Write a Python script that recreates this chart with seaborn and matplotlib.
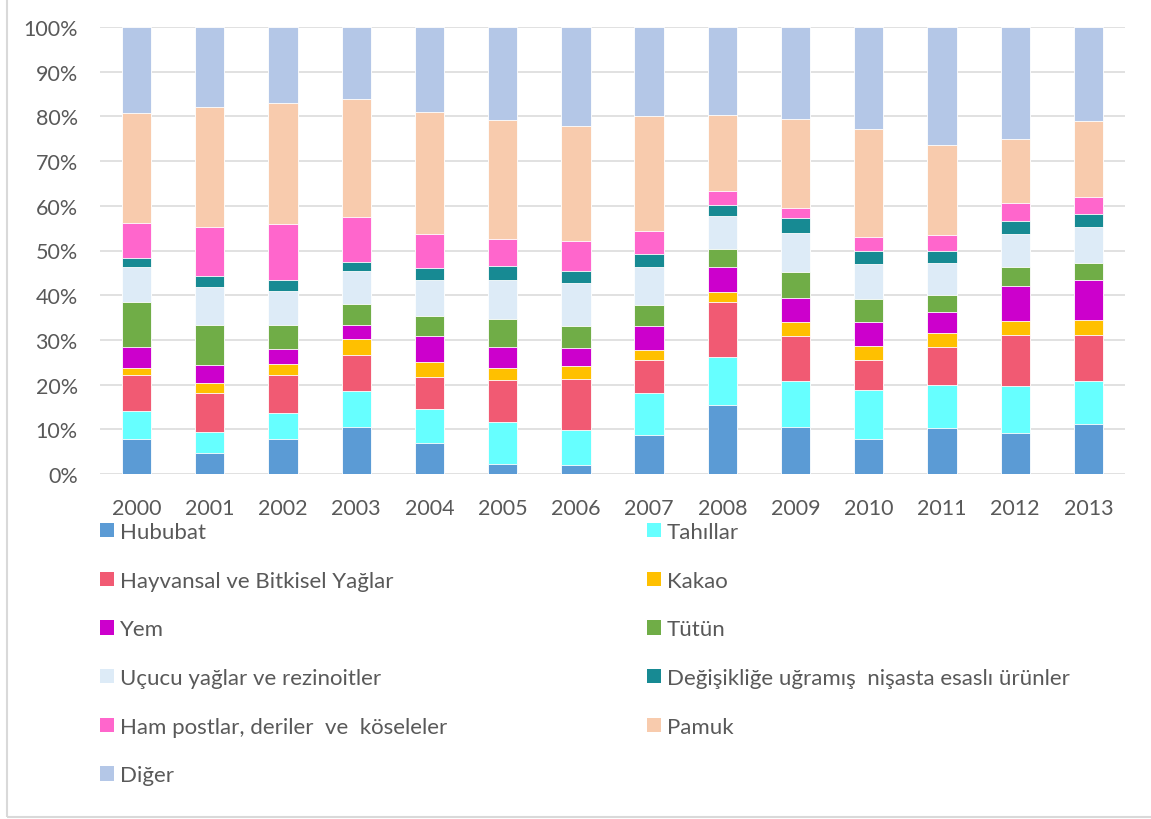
import numpy as np
import pandas as pd
import matplotlib.pyplot as plt
import seaborn as sns
from matplotlib.patches import Patch, Rectangle
from matplotlib.ticker import PercentFormatter

years = ['2000', '2001', '2002', '2003', '2004', '2005', '2006',
         '2007', '2008', '2009', '2010', '2011', '2012', '2013']

# pay (%) - resimden okunan tahmini degerler
hububat  = [7.8, 4.7, 7.8, 10.5, 7.0, 2.3, 2.1, 8.7, 15.5, 10.6, 7.8, 10.3, 9.1, 11.2]
tahillar = [6.3, 4.7, 5.9, 8.1, 7.5, 9.3, 7.8, 9.4, 10.6, 10.1, 10.9, 9.6, 10.6, 9.7]
hayvansal = [8.1, 8.8, 8.5, 8.0, 7.3, 9.4, 11.4, 7.3, 12.3, 10.1, 6.9, 8.6, 11.3, 10.3]
kakao    = [1.5, 2.2, 2.4, 3.5, 3.3, 2.7, 2.8, 2.4, 2.3, 3.3, 3.1, 3.1, 3.2, 3.3]
yem      = [4.8, 3.9, 3.3, 3.3, 5.8, 4.6, 4.0, 5.2, 5.7, 5.3, 5.4, 4.6, 7.9, 8.9]
tutun    = [9.9, 9.1, 5.5, 4.7, 4.5, 6.3, 5.0, 4.8, 4.0, 5.7, 5.1, 3.9, 4.2, 3.9]
ucucu    = [7.9, 8.5, 7.6, 7.3, 7.9, 8.8, 9.6, 8.6, 7.3, 8.9, 7.7, 7.1, 7.5, 8.0]
nisasta  = [2.1, 2.3, 2.4, 2.1, 2.7, 3.2, 2.8, 2.8, 2.4, 3.2, 3.0, 2.6, 2.9, 2.9]
ham      = [7.7, 11.1, 12.5, 10.1, 7.8, 5.9, 6.7, 5.2, 3.3, 2.4, 3.1, 3.7, 4.0, 3.8]
pamuk    = [24.7, 26.8, 27.2, 26.3, 27.2, 26.8, 25.7, 25.8, 17.0, 19.9, 24.1, 20.2, 14.3, 17.0]
diger    = [19.2, 17.9, 16.9, 16.1, 19.0, 20.7, 22.1, 19.8, 19.6, 20.5, 22.9, 26.3, 25.0, 21.0]

labels = ['Hububat', 'Tahıllar', 'Hayvansal ve Bitkisel Yağlar', 'Kakao', 'Yem', 'Tütün',
          'Uçucu yağlar ve rezinoitler', 'Değişikliğe uğramış  nişasta esaslı ürünler',
          'Ham postlar, deriler  ve  köseleler', 'Pamuk', 'Diğer']
colors = ['#5B9BD5', '#66FFFF', '#F15A73', '#FFC000', '#CC00CC', '#70AD47',
          '#DDEBF7', '#178A93', '#FF66CC', '#F8CBAD', '#B4C7E7']

series = [hububat, tahillar, hayvansal, kakao, yem, tutun, ucucu, nisasta, ham, pamuk, diger]
df = pd.DataFrame(dict(zip(labels, series)), index=years)
cum = df.cumsum(axis=1)
cum = cum.div(cum.iloc[:, -1], axis=0) * 100

sns.set_style('white')
plt.rcParams['font.family'] = ['Lato', 'DejaVu Sans']
txt = '#595959'

fig = plt.figure(figsize=(11.51, 8.20), dpi=100)
ax = fig.add_axes([100/1151, 1-475/820, 1025/1151, 447/820])

# ust ust binen cubuklar: buyukten kucuge ciz
for lab, col in zip(labels[::-1], colors[::-1]):
    sns.barplot(x=years, y=cum[lab].values, color=col, saturation=1, width=0.4,
                edgecolor='white', linewidth=0.6, ax=ax)

ax.set_xlim(-0.5, 13.5)
ax.set_ylim(0, 100)
ax.set_yticks(np.arange(0, 101, 10))
ax.yaxis.set_major_formatter(PercentFormatter(decimals=0))
ax.grid(axis='y', color='#D9D9D9', linewidth=1.1)
ax.set_axisbelow(True)
for s in ax.spines.values():
    s.set_visible(False)
ax.tick_params(axis='y', length=0, pad=16, labelsize=15.5, labelcolor=txt)
ax.tick_params(axis='x', length=0, pad=17, labelsize=15.5, labelcolor=txt)
ax.set_xlabel('')
ax.set_ylabel('')

handles = [Patch(facecolor=c, edgecolor='none') for c in colors]
left_idx = [0, 2, 4, 6, 8, 10]
right_idx = [1, 3, 5, 7, 9]
common = dict(loc='upper left', frameon=False, fontsize=16, labelcolor=txt,
              handlelength=0.63, handleheight=0.63, handletextpad=0.27,
              labelspacing=1.29, borderpad=0, borderaxespad=0)
fig.legend([handles[i] for i in left_idx], [labels[i] for i in left_idx],
           bbox_to_anchor=(100/1151, 1-523/820), **common)
fig.legend([handles[i] for i in right_idx], [labels[i] for i in right_idx],
           bbox_to_anchor=(647/1151, 1-523/820), **common)

fig.patches.append(Rectangle((7/1151, 2/820), 1.2, 1.1, transform=fig.transFigure,
                             fill=False, edgecolor='#D9D9D9', linewidth=1.5))

fig.savefig('out.png', dpi=100)
